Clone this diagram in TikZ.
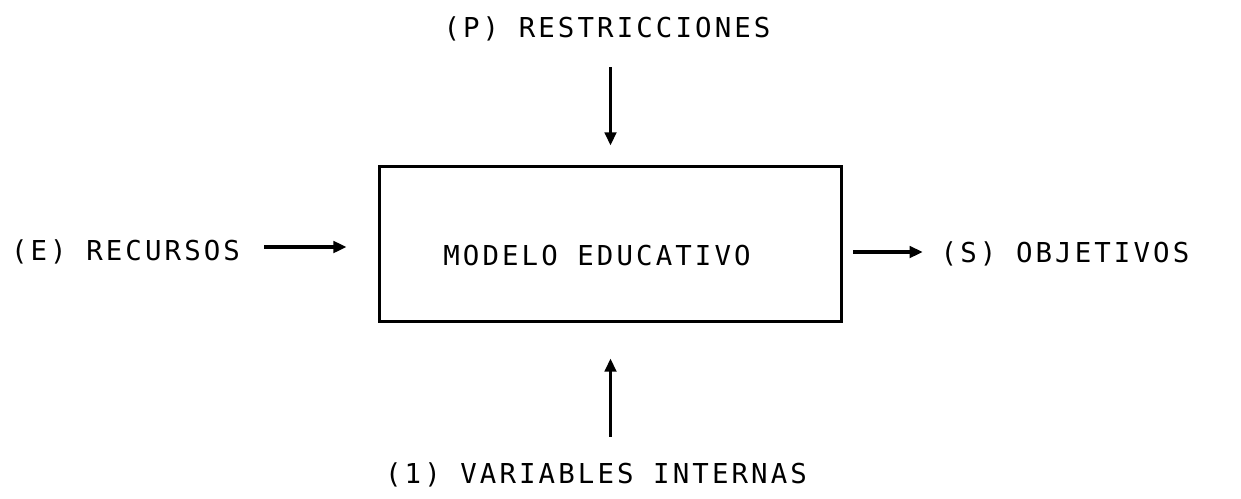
\documentclass[tikz,border=0pt]{standalone}
\usepackage{fontspec}
\newfontfamily\plotfont[LetterSpace=11.3]{DejaVu Sans Mono}
\usetikzlibrary{arrows.meta}
\begin{document}
\begin{tikzpicture}[x=0.02cm,y=-0.02cm,
  lbl/.style={inner sep=0pt, font=\plotfont\fontsize{15.6}{18}\selectfont},
  boxst/.style={draw, line width=1.7pt, minimum width=9.24cm, minimum height=3.1cm, inner sep=0pt},
  arr/.style={line width=1.9pt, -{Triangle[length=7.5pt,width=6.5pt]}}]
\useasboundingbox (0,0) rectangle (1241,498);
\node[boxst] (box) at (610.5,244) {};
\node[lbl] (mt) at (597,256) {MODELO EDUCATIVO};
\node[lbl] (top) at (607,29) {(P) RESTRICCIONES};
\node[lbl] (bot) at (596,475) {(1) VARIABLES INTERNAS};
\node[lbl] (rec) at (125.5,252) {(E) RECURSOS};
\node[lbl] (obj) at (1065,254) {(S) OBJETIVOS};
\draw[arr, shorten <=14.7pt, shorten >=11.1pt] (top.south -| box.north) -- (box.north);
\draw[arr, shorten <=14.7pt, shorten >=20.2pt] (bot.north -| box.south) -- (box.south);
\draw[arr, shorten <=13.7pt, shorten >=17.9pt] (rec.east |- 0,247) -- (box.west |- 0,247);
\draw[arr, shorten <=6pt, shorten >=10pt] (box.east |- 0,252) -- (obj.west |- 0,252);
\end{tikzpicture}
\end{document}
